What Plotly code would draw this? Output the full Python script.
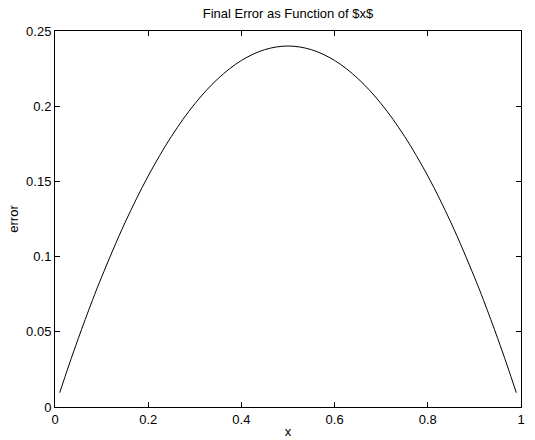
import plotly.graph_objects as go

x_vals = [0.01, 0.03, 0.05, 0.08, 0.1, 0.15, 0.2, 0.25, 0.3, 0.35, 0.4, 0.45, 0.5,
          0.55, 0.6, 0.65, 0.7, 0.75, 0.8, 0.85, 0.9, 0.92, 0.95, 0.97, 0.99]
err_vals = [0.0095, 0.0279, 0.0456, 0.0707, 0.0864, 0.1224, 0.1536, 0.1800, 0.2016,
            0.2184, 0.2304, 0.2376, 0.2400, 0.2376, 0.2304, 0.2184, 0.2016, 0.1800,
            0.1536, 0.1224, 0.0864, 0.0707, 0.0456, 0.0279, 0.0095]
x_ticks = [0, 0.2, 0.4, 0.6, 0.8, 1]
x_tick_text = ["0", "0.2", "0.4", "0.6", "0.8", "1"]
y_ticks = [0, 0.05, 0.1, 0.15, 0.2, 0.25]
y_tick_text = ["0", "0.05", "0.1", "0.15", "0.2", "0.25"]

fig = go.Figure()
fig.add_trace(go.Scatter(x=x_vals, y=err_vals, mode="lines",
                         line=dict(color="black", width=1, shape="spline"),
                         showlegend=False, hoverinfo="skip"))

font = dict(family="Liberation Sans, Arial, sans-serif", size=13, color="black")
axis_common = dict(showline=True, linecolor="black", linewidth=1, mirror="allticks",
                   ticks="inside", ticklen=5, tickcolor="black", showgrid=False,
                   zeroline=False, tickfont=font, automargin=False)

fig.update_layout(
    width=535, height=440,
    margin=dict(l=55, r=14, t=31, b=33),
    paper_bgcolor="white", plot_bgcolor="white",
    font=font,
    title=dict(text="Final Error as Function of $x$", x=0.5, xanchor="center",
               xref="paper", y=1 - 13 / 440, yanchor="middle",
               font=font),
    xaxis=dict(range=[0, 1], tickvals=x_ticks, ticktext=x_tick_text,
               title=dict(text="x", font=font, standoff=1), **axis_common),
    yaxis=dict(range=[0, 0.25], tickvals=y_ticks, ticktext=y_tick_text,
               title=dict(text="error", font=font, standoff=4), **axis_common),
)

fig.write_html("out.html", config={"displayModeBar": False},
               post_script="document.body.style.margin='0';document.body.style.overflow='hidden';")
